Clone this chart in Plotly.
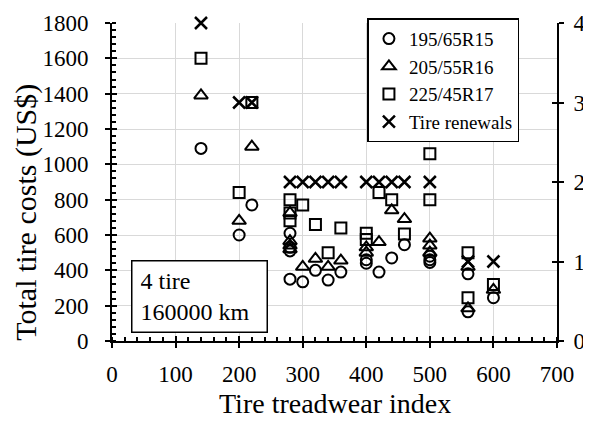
"""
Tire cost vs treadwear index, with tire renewals on a secondary axis
"""

import plotly.graph_objects as go

# 195/65R15
tw_195 = [140, 200, 220, 280, 280, 280, 280, 300, 320, 340, 360, 400, 400,
          420, 440, 460, 500, 500, 500, 560, 560, 600]
cost_195 = [1090, 600, 770, 610, 530, 510, 350, 335, 400, 345, 390, 460, 440,
            390, 470, 545, 480, 460, 445, 380, 165, 245]

# 205/55R16
tw_205 = [140, 200, 220, 280, 280, 280, 280, 300, 320, 340, 360, 400, 400,
          420, 440, 460, 500, 500, 500, 560, 560, 600]
cost_205 = [1390, 680, 1100, 725, 565, 540, 520, 420, 465, 420, 455, 530, 500,
            560, 740, 690, 580, 540, 500, 420, 185, 290]

# 225/45R17
tw_225 = [140, 200, 220, 280, 280, 280, 300, 320, 340, 360, 400, 400, 420,
          440, 460, 500, 500, 560, 560, 600]
cost_225 = [1600, 840, 1350, 800, 725, 680, 770, 660, 500, 640, 610, 575, 840,
            800, 605, 1060, 800, 500, 245, 320]

# Tire renewals (right axis)
tw_ren = [140, 200, 220, 280, 300, 320, 340, 360, 400, 420, 440, 460, 500, 560, 600]
renewals = [4, 3, 3, 2, 2, 2, 2, 2, 2, 2, 2, 2, 2, 1, 1]

FONT = "Liberation Serif"

fig = go.Figure()

series = [
    (tw_195, cost_195, "195/65R15", "circle-open", 11, "y"),
    (tw_205, cost_205, "205/55R16", "triangle-up-open", 12, "y"),
    (tw_225, cost_225, "225/45R17", "square-open", 11, "y"),
    (tw_ren, renewals, "Tire renewals", "x-thin-open", 12, "y2"),
]
for xs, ys, name, sym, size, yax in series:
    fig.add_trace(
        go.Scatter(
            x=xs,
            y=ys,
            mode="markers",
            name=name,
            yaxis=yax,
            cliponaxis=False,
            marker=dict(
                symbol=sym,
                size=size,
                color="black",
                line=dict(color="black", width=2.5 if sym.startswith("x") else 2),
            ),
        )
    )

# invisible traces so the overlay tick axes get drawn (cross ticks)
for xa, ya in [("x2", "y3"), ("x2", "y4")]:
    fig.add_trace(go.Scatter(x=[0], y=[0], xaxis=xa, yaxis=ya,
                             mode="markers", marker=dict(opacity=0),
                             showlegend=False, hoverinfo="skip"))

tick_common = dict(
    zeroline=False,
    ticklen=5,
    tickwidth=2,
    tickcolor="black",
    automargin=False,
)

# page body has an 8px margin: keep the figure small enough to avoid scrollbars
fig.update_layout(
    width=583,
    height=410,
    margin=dict(l=104, r=34, t=10, b=77),
    plot_bgcolor="white",
    paper_bgcolor="white",
    font=dict(family=FONT, size=22, color="black"),
    showlegend=True,
    legend=dict(
        x=0.574,
        y=1.015,
        xanchor="left",
        yanchor="top",
        bgcolor="white",
        bordercolor="black",
        borderwidth=1.5,
        font=dict(family=FONT, size=19),
        itemwidth=30,
        tracegroupgap=0,
    ),
    xaxis=dict(
        range=[0, 700],
        dtick=100,
        showgrid=True,
        gridcolor="#d9d9d9",
        gridwidth=1.3,
        showline=True,
        linecolor="black",
        linewidth=2,
        ticks="outside",
        ticklabelstandoff=6,
        minor=dict(ticks="inside", ticklen=4, dtick=20, tickcolor="black",
                   tickwidth=1.5, showgrid=False),
        tickfont=dict(size=23),
        **tick_common,
    ),
    xaxis2=dict(
        range=[0, 700],
        dtick=100,
        overlaying="x",
        showgrid=False,
        showticklabels=False,
        ticks="inside",
        **tick_common,
    ),
    yaxis=dict(
        range=[0, 1800],
        dtick=200,
        showgrid=True,
        gridcolor="#d9d9d9",
        gridwidth=1.3,
        showline=True,
        linecolor="black",
        linewidth=2,
        ticks="outside",
        ticklabelstandoff=12,
        minor=dict(ticks="inside", ticklen=4, dtick=40, tickcolor="black",
                   tickwidth=1.5, showgrid=False),
        tickfont=dict(size=23),
        **tick_common,
    ),
    yaxis2=dict(
        range=[0, 4],
        dtick=1,
        overlaying="y",
        side="right",
        showgrid=False,
        showline=True,
        linecolor="black",
        linewidth=2,
        ticks="outside",
        ticklabelstandoff=5,
        tickfont=dict(size=23),
        **tick_common,
    ),
    yaxis3=dict(
        range=[0, 1800],
        dtick=200,
        overlaying="y",
        showgrid=False,
        showticklabels=False,
        ticks="inside",
        **tick_common,
    ),
    yaxis4=dict(
        range=[0, 4],
        dtick=1,
        overlaying="y",
        side="right",
        showgrid=False,
        showticklabels=False,
        ticks="inside",
        **tick_common,
    ),
)

# axis titles
fig.add_annotation(
    text="Tire treadwear index",
    xref="paper", yref="paper",
    x=0.5, y=-0.196,
    xanchor="center", yanchor="middle",
    showarrow=False,
    font=dict(family=FONT, size=28),
)
fig.add_annotation(
    text="Total tire costs (US$)",
    xref="paper", yref="paper",
    x=-0.195, y=0.404,
    xanchor="center", yanchor="middle",
    textangle=-90,
    showarrow=False,
    font=dict(family=FONT, size=30),
)

# text box
fig.add_annotation(
    text="4 tire<br>160000 km",
    xref="paper", yref="paper",
    x=0.0427, y=0.255,
    xanchor="left", yanchor="top",
    align="left",
    showarrow=False,
    width=118,
    height=54,
    borderpad=8,
    bgcolor="white",
    bordercolor="black",
    borderwidth=1.5,
    font=dict(family=FONT, size=24),
)

fig.write_html("out.html")
